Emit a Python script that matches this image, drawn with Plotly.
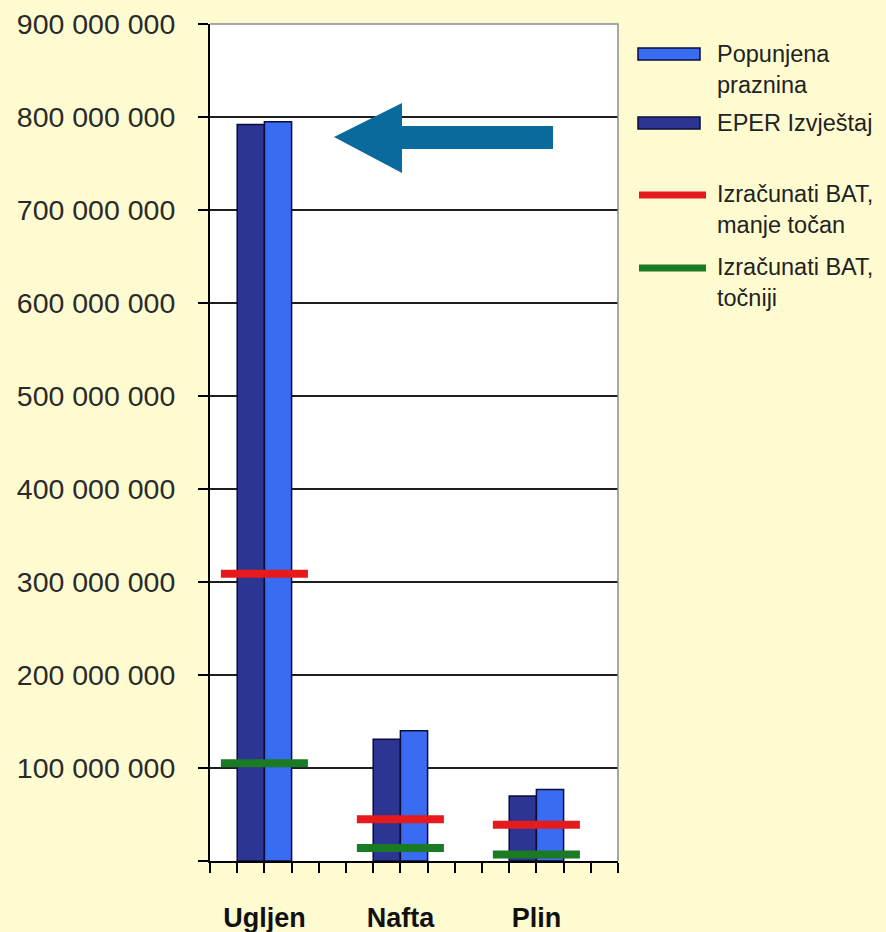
import plotly.graph_objects as go

# ---- data -------------------------------------------------------------
categories = ["Ugljen", "Nafta", "Plin"]
eper_izvjestaj = [792e6, 131e6, 70e6]          # EPER Izvještaj
popunjena_praznina = [795e6, 140e6, 77e6]      # Popunjena praznina
bat_manje_tocan = [309e6, 45e6, 39e6]          # Izračunati BAT, manje točan
bat_tocniji = [105e6, 14e6, 7e6]               # Izračunati BAT, točniji

y_tick_values = [0, 100e6, 200e6, 300e6, 400e6, 500e6, 600e6, 700e6, 800e6, 900e6]
y_tick_labels = ["", "100 000 000", "200 000 000", "300 000 000", "400 000 000",
                 "500 000 000", "600 000 000", "700 000 000", "800 000 000", "900 000 000"]

legend_labels = ["Popunjena<br>praznina", "EPER Izvještaj",
                 "Izračunati BAT,<br>manje točan", "Izračunati BAT,<br>točniji"]

# ---- styling ----------------------------------------------------------
BG = "#FFFBD0"
DARK_BLUE = "#2C3592"
LIGHT_BLUE = "#3A6CF2"
OUTLINE = "#0C0C3A"
RED = "#E41A1C"
GREEN = "#1B7A24"
ARROW = "#0A6A9C"
FONT = "Liberation Sans"

W, H = 886, 932
L, R, T, B = 210, 268, 24, 71
PW, PH = W - L - R, H - T - B

SLOTS = 5                      # category slots per group on the x axis
n_slots = SLOTS * len(categories)
centers = [SLOTS * i + 2 for i in range(len(categories))]
half_seg = 1.6                 # half length of the BAT level markers (slot units)


def paper(xp, yp):
    """Pixel position in the page -> paper coordinates."""
    return (xp - L) / PW, (T + PH - yp) / PH


def seg_xy(vals):
    xs, ys = [], []
    for c, v in zip(centers, vals):
        xs += [c - half_seg, c + half_seg, None]
        ys += [v, v, None]
    return xs, ys


fig = go.Figure()

fig.add_trace(go.Bar(
    name="EPER Izvještaj", x=[c - 0.5 for c in centers], y=eper_izvjestaj, width=1,
    marker=dict(color=DARK_BLUE, line=dict(color=OUTLINE, width=1.5)),
))
fig.add_trace(go.Bar(
    name="Popunjena praznina", x=[c + 0.5 for c in centers], y=popunjena_praznina, width=1,
    marker=dict(color=LIGHT_BLUE, line=dict(color=OUTLINE, width=1.5)),
))

sx, sy = seg_xy(bat_manje_tocan)
fig.add_trace(go.Scatter(name="Izračunati BAT, manje točan", x=sx, y=sy, mode="lines",
                         line=dict(color=RED, width=8)))
sx, sy = seg_xy(bat_tocniji)
fig.add_trace(go.Scatter(name="Izračunati BAT, točniji", x=sx, y=sy, mode="lines",
                         line=dict(color=GREEN, width=8)))

# ---- arrow pointing at the coal bars -----------------------------------
arrow_pts = [paper(334, 137), paper(402, 103), paper(402, 126), paper(553, 126),
             paper(553, 149), paper(402, 149), paper(402, 173)]
arrow_path = "M " + " L ".join(f"{x:.4f},{y:.4f}" for x, y in arrow_pts) + " Z"

shapes = [
    dict(type="path", xref="paper", yref="paper", path=arrow_path,
         fillcolor=ARROW, line=dict(width=0), layer="above"),
    # light frame on the top and right edges of the plot area
    dict(type="path", xref="paper", yref="paper", path="M 0,1 L 1,1 L 1,0",
         line=dict(color="#8C8C8C", width=1.5), layer="above"),
]

# ---- legend -----------------------------------------------------------
LEG_FS = 23.5
line_h = 1.3 * LEG_FS
legend_rows = [  # (first-line centre y, kind, colour)
    (54, "rect", LIGHT_BLUE),
    (123, "rect", DARK_BLUE),
    (194, "line", RED),
    (267, "line", GREEN),
]
annotations = []
for label, (yc, kind, col) in zip(legend_labels, legend_rows):
    if kind == "rect":
        x0, y0 = paper(638, yc - 6)
        x1, y1 = paper(700, yc + 6)
        shapes.append(dict(type="rect", xref="paper", yref="paper", x0=x0, x1=x1, y0=y0, y1=y1,
                           fillcolor=col, line=dict(color=OUTLINE, width=1.5)))
    else:
        x0, y0 = paper(639, yc + 1)
        x1, _ = paper(706, yc + 1)
        shapes.append(dict(type="line", xref="paper", yref="paper", x0=x0, x1=x1, y0=y0, y1=y0,
                           line=dict(color=col, width=7)))
    n_lines = label.count("<br>") + 1
    ax, ay = paper(715, yc + (n_lines - 1) * line_h / 2)
    annotations.append(dict(x=ax, y=ay, xref="paper", yref="paper", text=label,
                            showarrow=False, xanchor="left", yanchor="middle", align="left",
                            font=dict(family=FONT, size=LEG_FS, color="#222222")))

fig.update_layout(
    width=W, height=H, autosize=False,
    margin=dict(l=L, r=R, t=T, b=B, pad=0),
    paper_bgcolor=BG, plot_bgcolor="white",
    barmode="overlay", showlegend=False,
    shapes=shapes, annotations=annotations,
    font=dict(family=FONT, color="#222222"),
)

fig.update_xaxes(
    range=[0, n_slots], tickmode="array", tickvals=centers, ticktext=categories,
    ticks="outside", ticklen=10, tickwidth=1.5, tickcolor="black",
    minor=dict(tickmode="linear", tick0=0, dtick=1, ticks="outside", ticklen=10,
               tickwidth=1.5, tickcolor="black", showgrid=False),
    tickfont=dict(family=FONT, size=27, color="#111111", weight="bold"),
    ticklabelstandoff=22, automargin=False,
    showline=True, linecolor="black", linewidth=2,
    showgrid=False, zeroline=False, fixedrange=True,
)
fig.update_yaxes(
    range=[0, 900e6], tickmode="array", tickvals=y_tick_values, ticktext=y_tick_labels,
    ticks="outside", ticklen=10, tickwidth=1.5, tickcolor="black",
    tickfont=dict(family=FONT, size=28.5, color="#2A2A2A"),
    ticklabelstandoff=17, automargin=False,
    showgrid=True, gridcolor="#1E1E1E", gridwidth=1.5,
    showline=True, linecolor="black", linewidth=2,
    zeroline=False, fixedrange=True,
)

fig.write_html("out.html")
